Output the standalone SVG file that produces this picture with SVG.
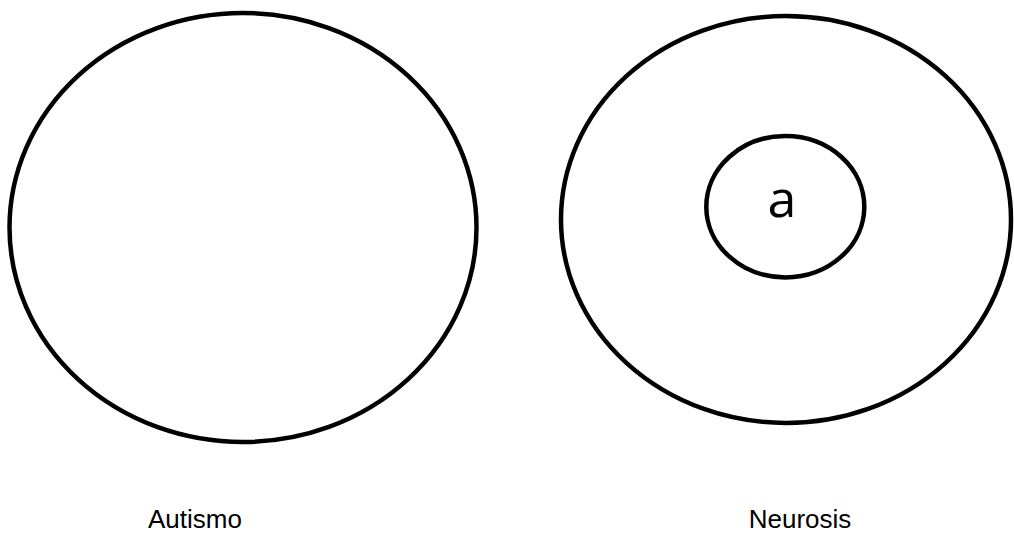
<svg xmlns="http://www.w3.org/2000/svg" width="1014" height="533" viewBox="0 0 1014 533">
<style>
.sh{fill:none;stroke:#000;stroke-width:4.5}
.lbl{font-family:"Liberation Sans",Arial,sans-serif;font-size:26px;fill:#000;text-anchor:middle}
.a{font-family:"Open Sans","Noto Sans",sans-serif;font-size:52px;fill:#000;text-anchor:middle}
</style>
<rect width="1014" height="533" fill="#fff"/>
<g id="autismo">
<ellipse class="sh" cx="243" cy="227.5" rx="233.5" ry="214.5"/>
</g>
<g id="neurosis">
<ellipse class="sh" cx="786" cy="219.5" rx="225" ry="203.5"/>
</g>
<g id="a-node">
<ellipse class="sh" cx="785.3" cy="206.7" rx="79" ry="70.7"/>
<text class="a" x="782" y="217">a</text>
</g>
<g id="connectors"></g>
<text class="lbl" x="195" y="528">Autismo</text>
<text class="lbl" x="800" y="528">Neurosis</text>
</svg>
